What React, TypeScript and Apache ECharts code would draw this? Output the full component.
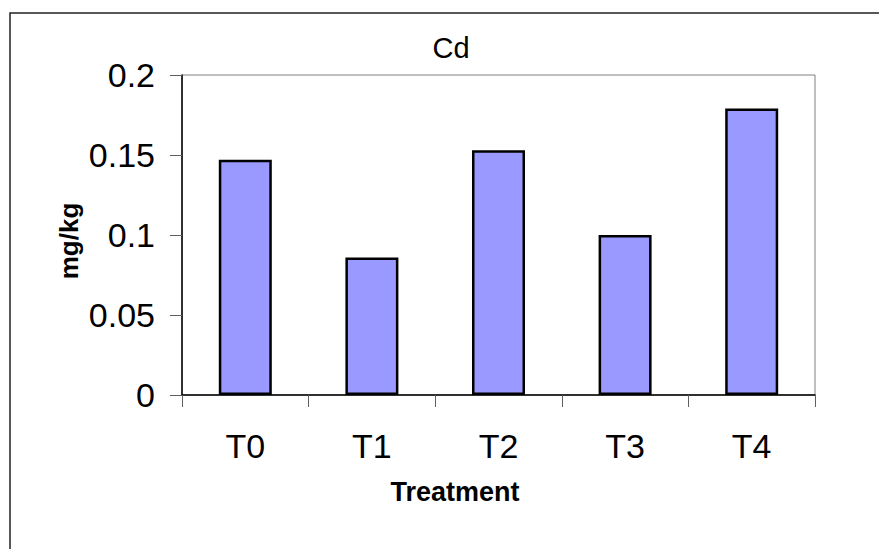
import React, { useEffect, useRef } from "react";
import * as echarts from "echarts";

const categories = ["T0", "T1", "T2", "T3", "T4"];
const cdValues = [0.147, 0.086, 0.153, 0.1, 0.179];
const yTicks = { min: 0, max: 0.2, interval: 0.05 };
const titleText = "Cd";
const xAxisTitle = "Treatment";
const yAxisTitle = "mg/kg";

const FONT = "'Liberation Sans', Arial, sans-serif";

export default function App() {
  const ref = useRef<HTMLDivElement>(null);
  useEffect(() => {
    if (!ref.current) return;
    const chart = echarts.init(ref.current, undefined, { renderer: "svg" });
    chart.setOption({
      animation: false,
      backgroundColor: "#ffffff",
      grid: {
        left: 182,
        top: 75,
        right: 64,
        bottom: 154,
        show: true,
        borderColor: "#808080",
        borderWidth: 1,
        backgroundColor: "transparent",
      },
      xAxis: {
        type: "category",
        data: categories,
        boundaryGap: true,
        axisLine: { show: true, lineStyle: { color: "#000000", width: 1.5 } },
        axisTick: {
          show: true,
          length: 12,
          alignWithLabel: false,
          lineStyle: { color: "#606060", width: 1 },
        },
        axisLabel: {
          color: "#000000",
          fontSize: 34,
          fontFamily: FONT,
          margin: 34,
          lineHeight: 34,
        },
        splitLine: { show: false },
      },
      yAxis: {
        type: "value",
        min: yTicks.min,
        max: yTicks.max,
        interval: yTicks.interval,
        axisLine: { show: true, lineStyle: { color: "#000000", width: 1.5 } },
        axisTick: { show: true, length: 12, lineStyle: { color: "#606060", width: 1 } },
        axisLabel: {
          color: "#000000",
          fontSize: 34,
          fontFamily: FONT,
          margin: 27,
        },
        splitLine: { show: false },
      },
      series: [
        {
          type: "bar",
          data: cdValues,
          barWidth: 53,
          itemStyle: {
            color: "#9999FF",
            borderColor: "#000000",
            borderWidth: 2.5,
          },
        },
      ],
      graphic: [
        {
          type: "rect",
          silent: true,
          shape: { x: 10, y: 13, width: 900, height: 600 },
          style: { fill: "none", stroke: "#222222", lineWidth: 1.5 },
          z: 100,
        },
        {
          type: "text",
          x: 451,
          y: 48,
          style: {
            text: titleText,
            font: `29px ${FONT}`,
            fill: "#000000",
            textAlign: "center",
            textVerticalAlign: "middle",
          },
        },
        {
          type: "text",
          x: 455,
          y: 492,
          style: {
            text: xAxisTitle,
            font: `bold 27px ${FONT}`,
            fill: "#000000",
            textAlign: "center",
            textVerticalAlign: "middle",
          },
        },
        {
          type: "text",
          x: 69,
          y: 241,
          rotation: Math.PI / 2,
          style: {
            text: yAxisTitle,
            font: `bold 26px ${FONT}`,
            fill: "#000000",
            textAlign: "center",
            textVerticalAlign: "middle",
          },
        },
      ],
    });
    return () => chart.dispose();
  }, []);
  return (
    <div
      ref={ref}
      style={{ position: "fixed", left: 0, top: 0, width: 879, height: 549 }}
    />
  );
}
